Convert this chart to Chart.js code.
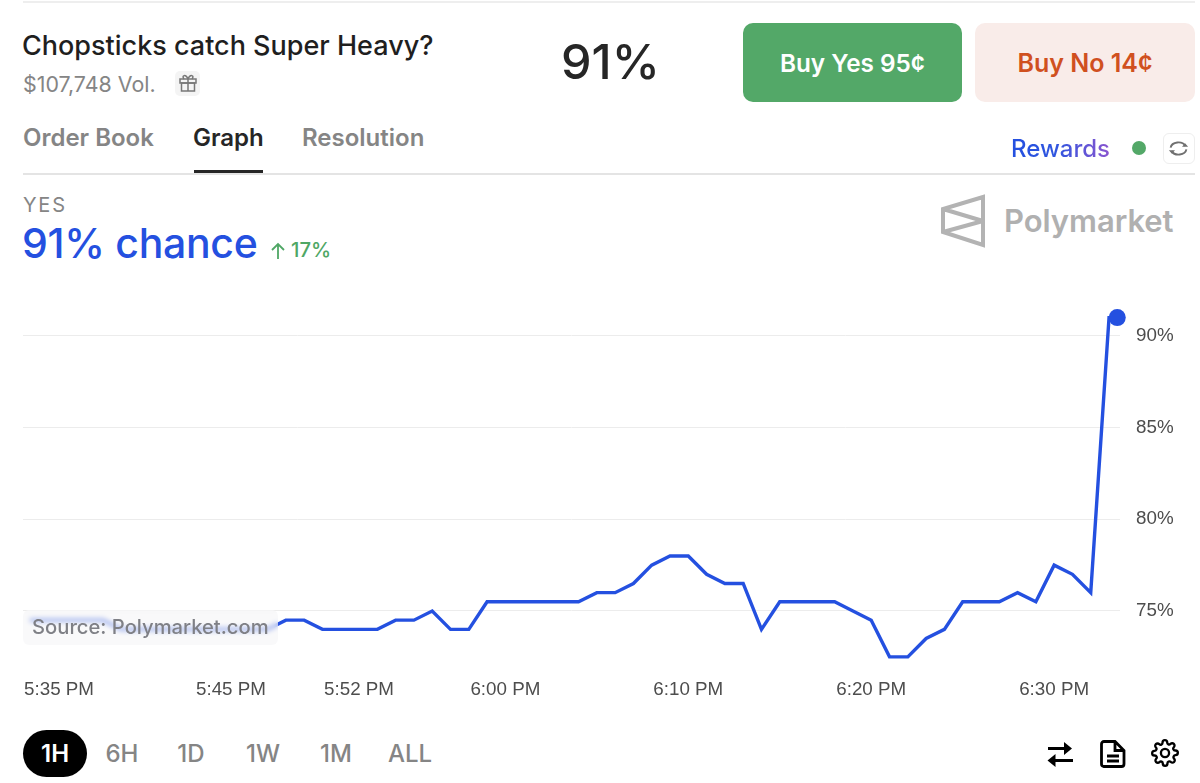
<!DOCTYPE html>
<html>
<head>
<meta charset="utf-8">
<script src="https://cdn.jsdelivr.net/npm/chart.js@4"></script>
<style>
html, body { margin: 0; padding: 0; background: #fff; }
body { width: 1200px; height: 783px; position: relative; overflow: hidden; font-family: Inter, sans-serif; }
.abs { position: absolute; white-space: nowrap; line-height: 1; }
#chartBox { position: absolute; left: 0; top: 272px; width: 1200px; height: 438px; }
.btn { position: absolute; top: 23px; height: 79px; border-radius: 10px; display: flex; align-items: center; justify-content: center; font-size: 24.3px; font-weight: 600; }
.range { position: absolute; top: 754px; transform: translate(-50%, -50%); font-size: 24px; font-weight: 500; color: #858585; line-height: 1; }
</style>
</head>
<body>

<div class="abs" style="left:23px;right:5px;top:1px;height:2px;background:#eee"></div>

<div class="abs" style="left:22px;top:32px;font-size:27px;font-weight:500;color:#1f1f1f">Chopsticks catch Super Heavy?</div>
<div class="abs" style="left:23px;top:74px;font-size:21.4px;color:#858585">$107,748 Vol.</div>
<div class="abs" style="left:175px;top:71px;width:25px;height:25px;border-radius:5px;background:#f4f4f4"></div>
<svg class="abs" style="left:178px;top:73px" width="20" height="20" viewBox="0 0 20 20" fill="none" stroke="#777" stroke-width="1.5">
  <rect x="2" y="6" width="16" height="4"/><rect x="3.5" y="10" width="13" height="8"/><path d="M10 6v12M10 6C8 1 3 2 6 6M10 6c2-5 7-4 4 0"/>
</svg>

<div class="abs" style="left:561px;top:38px;font-size:48.5px;font-weight:500;color:#262626">91%</div>
<div class="btn" style="left:743px;width:219px;background:#53a868;color:#fff">Buy Yes 95¢</div>
<div class="btn" style="left:975px;width:220px;background:#f9ece9;color:#d0501f;font-size:25px">Buy No 14¢</div>

<div class="abs" style="left:23px;top:126px;font-size:24px;font-weight:600;color:#858585">Order Book</div>
<div class="abs" style="left:193px;top:126px;font-size:24px;font-weight:600;color:#262626">Graph</div>
<div class="abs" style="left:302px;top:126px;font-size:24px;font-weight:600;color:#858585">Resolution</div>
<div class="abs" style="left:194px;top:170px;width:69px;height:3px;background:#262626"></div>
<div class="abs" style="left:23px;right:5px;top:173px;height:2px;background:#e4e4e4"></div>

<div class="abs" style="left:1011px;top:137px;font-size:24px;font-weight:500;background:linear-gradient(90deg,#2450e0,#2f55df 45%,#8a55cf);-webkit-background-clip:text;background-clip:text;color:transparent">Rewards</div>
<div class="abs" style="left:1132px;top:141px;width:14px;height:14px;border-radius:50%;background:#53a868"></div>
<div class="abs" style="left:1163px;top:133px;width:30px;height:29px;border:1px solid #eee;border-radius:6px"></div>
<svg class="abs" style="left:1168px;top:138px" width="21" height="21" viewBox="0 0 24 24" fill="none" stroke="#707070" stroke-width="2.2">
  <path d="M3 11a9 7 0 0 1 17-2M21 13a9 7 0 0 1-17 2"/><path d="M16 10h7l-3.500-4zM8 14H1l3.500 4z" fill="#707070" stroke="none"/>
</svg>

<div class="abs" style="left:23px;top:195px;font-size:20px;letter-spacing:1.8px;color:#858585">YES</div>
<div class="abs" style="left:22px;top:223px;font-size:41px;font-weight:500;letter-spacing:-0.3px;color:#2450e0">91% chance</div>
<svg class="abs" style="left:270px;top:242px" width="16" height="18" viewBox="0 0 16 18" fill="none" stroke="#4fa765" stroke-width="1.8">
  <path d="M8 17V2M2 8l6-6 6 6"/>
</svg>
<div class="abs" style="left:291px;top:240px;font-size:20.3px;font-weight:500;color:#4fa765">17%</div>

<svg class="abs" style="left:940px;top:194px" width="46" height="54" viewBox="0 0 46 54" fill="none" stroke="#b3b3b3" stroke-width="4">
  <path d="M43 3v48L3 38V15zM3 15l40 12M3 38l40-11"/>
</svg>
<div class="abs" style="left:1004px;top:205px;font-size:31px;font-weight:600;letter-spacing:-0.05px;color:#b0b0b0">Polymarket</div>

<div id="chartBox"><canvas id="chart"></canvas></div>

<div class="abs" style="left:23px;top:610px;width:255px;height:35px;border-radius:6px;background:rgba(245,245,247,.58);backdrop-filter:blur(2.5px);-webkit-backdrop-filter:blur(2.5px)"></div>
<div class="abs" style="left:32px;top:617px;font-size:20.2px;font-weight:500;color:#7f8086">Source: Polymarket.com</div>

<div class="abs" style="left:23px;top:730px;width:64px;height:47px;border-radius:24px;background:#000"></div>
<div class="range" style="left:55px;color:#fff;font-weight:600">1H</div>
<div class="range" style="left:122px">6H</div>
<div class="range" style="left:191px">1D</div>
<div class="range" style="left:263px">1W</div>
<div class="range" style="left:336px">1M</div>
<div class="range" style="left:410px">ALL</div>

<svg class="abs" style="left:1047px;top:740px" width="26" height="28" viewBox="0 0 26 28" fill="none" stroke="#000" stroke-width="3">
  <path d="M1 8.500h17M3 20.500h23"/>
  <path d="M17 2l8 6.500-8 6.500zM8.500 14L0.500 20.500l8 6.500z" fill="#000" stroke="none"/>
</svg>
<svg class="abs" style="left:1100px;top:740px" width="26" height="28" viewBox="0 0 26 28" fill="none" stroke="#000" stroke-width="2.800">
  <path d="M4 1.500h11l9 9V24a2.500 2.500 0 0 1-2.500 2.500h-18A2.500 2.500 0 0 1 1.500 24V4A2.500 2.500 0 0 1 4 1.500zM15 1.500v9h9M7 16h12M7 21h12"/>
</svg>
<svg class="abs" style="left:1151px;top:739px" width="28" height="28" viewBox="0 0 24 24" fill="none" stroke="#000" stroke-width="2">
  <circle cx="12" cy="12" r="3.500"/>
  <path d="M19.400 15a1.650 1.650 0 0 0 .33 1.820l.06.06a2 2 0 1 1-2.830 2.830l-.06-.06a1.650 1.650 0 0 0-2.800 1.170V21a2 2 0 1 1-4 0v-.09a1.650 1.650 0 0 0-2.800-1.170l-.06.06a2 2 0 1 1-2.830-2.830l.06-.06a1.650 1.650 0 0 0-1.170-2.800H3a2 2 0 1 1 0-4h.09a1.650 1.650 0 0 0 1.170-2.800l-.06-.06a2 2 0 1 1 2.830-2.830l.06.06a1.650 1.650 0 0 0 2.800-1.170V3a2 2 0 1 1 4 0v.09a1.650 1.650 0 0 0 2.800 1.170l.06-.06a2 2 0 1 1 2.830 2.830l-.06.06a1.650 1.650 0 0 0 1.170 2.800H21a2 2 0 1 1 0 4h-.09a1.650 1.650 0 0 0-1.510 1z"/>
</svg>

<script>
// minutes after 5:35 PM
var minutes = [-1, 0, 1, 2, 3, 4, 5, 6, 7, 8, 9, 10, 11, 12, 13, 14, 15, 16, 17, 18, 19, 20, 21, 22, 23, 24, 25, 26, 27, 28, 29, 30, 31, 32, 33, 34, 35, 36, 37, 38, 39, 40, 41, 42, 43, 44, 45, 46, 47, 48, 49, 50, 51, 52, 53, 54, 55, 56, 57, 58, 58.45];
var yesValues = [74.5, 74.5, 74.5, 74.5, 74.5, 74, 74, 74, 74, 74, 74, 74, 74, 74, 74.5, 74.5, 74, 74, 74, 74, 74.5, 74.5, 75, 74, 74, 75.5, 75.5, 75.5, 75.5, 75.5, 75.5, 76, 76, 76.5, 77.5, 78, 78, 77, 76.5, 76.5, 74, 75.5, 75.5, 75.5, 75.5, 75, 74.5, 72.5, 72.5, 73.5, 74, 75.5, 75.5, 75.5, 76, 75.5, 77.5, 77, 76, 91, 91];
var tickMinutes = [0.6, 10, 17, 25, 35, 45, 55];
var tickLabels = ["5:35 PM", "5:45 PM", "5:52 PM", "6:00 PM", "6:10 PM", "6:20 PM", "6:30 PM"];
var yTicks = [75, 80, 85, 90];

var points = minutes.map(function (m, i) {
    return { x: m, y: yesValues[i] };
});

var lastIndex = points.length - 1;

var chart = new Chart(document.getElementById("chart"), {
    type: "line",
    data: {
        datasets: [{
            data: points,
            borderColor: "#2450e0",
            borderWidth: 3.4,
            tension: 0,
            clip: false,
            pointRadius: function (ctx) { return ctx.dataIndex === lastIndex ? 8.5 : 0; },
            pointBackgroundColor: "#2450e0",
            pointBorderWidth: 0
        }]
    },
    options: {
        responsive: true,
        maintainAspectRatio: false,
        animation: false,
        layout: { padding: { left: 23, top: 8 } },
        plugins: { legend: { display: false }, tooltip: { enabled: false } },
        scales: {
            x: {
                type: "linear",
                min: -1.37,
                max: 58.6,
                afterBuildTicks: function (axis) {
                    axis.ticks = tickMinutes.map(function (v) { return { value: v }; });
                },
                afterFit: function (axis) { axis.height = 44; },
                grid: { display: false },
                border: { display: false },
                ticks: {
                    autoSkip: false,
                    maxRotation: 0,
                    padding: 5,
                    color: "#4d4d4d",
                    font: { family: "Liberation Sans", size: 18.8 },
                    callback: function (v) { return tickLabels[tickMinutes.indexOf(v)]; }
                }
            },
            y: {
                position: "right",
                min: 72,
                max: 92,
                afterBuildTicks: function (axis) {
                    axis.ticks = yTicks.map(function (v) { return { value: v }; });
                },
                afterFit: function (axis) { axis.width = 80; },
                grid: { color: "#ececec", lineWidth: 1, drawTicks: false },
                border: { display: false },
                ticks: {
                    padding: 16,
                    color: "#4d4d4d",
                    font: { family: "Liberation Sans", size: 18.8 },
                    callback: function (v) { return v + "%"; }
                }
            }
        }
    }
});
</script>
</body>
</html>
